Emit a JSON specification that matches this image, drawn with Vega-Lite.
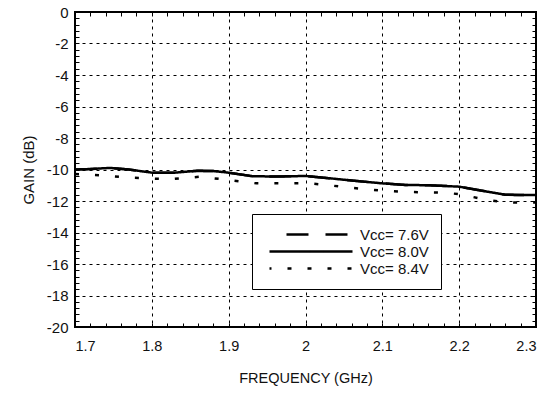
{
  "$schema": "https://vega.github.io/schema/vega-lite/v6.json",
  "width": 461,
  "height": 315,
  "autosize": {"type": "none"},
  "padding": {"left": 75, "top": 12, "right": 18, "bottom": 67},
  "background": "white",
  "config": {
    "view": {"stroke": "black", "strokeWidth": 2},
    "font": "Liberation Sans",
    "axis": {"labelFont": "Liberation Sans", "titleFont": "Liberation Sans", "labelColor": "#111", "titleColor": "#111", "titleFontWeight": "normal"}
  },
  "data": {"values": [
    {"f": 1.70, "g": -10.0, "s": "Vcc= 7.6V"},
    {"f": 1.72, "g": -9.97, "s": "Vcc= 7.6V"},
    {"f": 1.745, "g": -9.9, "s": "Vcc= 7.6V"},
    {"f": 1.77, "g": -10.0, "s": "Vcc= 7.6V"},
    {"f": 1.80, "g": -10.2, "s": "Vcc= 7.6V"},
    {"f": 1.83, "g": -10.2, "s": "Vcc= 7.6V"},
    {"f": 1.86, "g": -10.08, "s": "Vcc= 7.6V"},
    {"f": 1.88, "g": -10.1, "s": "Vcc= 7.6V"},
    {"f": 1.90, "g": -10.2, "s": "Vcc= 7.6V"},
    {"f": 1.93, "g": -10.42, "s": "Vcc= 7.6V"},
    {"f": 1.96, "g": -10.45, "s": "Vcc= 7.6V"},
    {"f": 2.00, "g": -10.41, "s": "Vcc= 7.6V"},
    {"f": 2.03, "g": -10.55, "s": "Vcc= 7.6V"},
    {"f": 2.06, "g": -10.7, "s": "Vcc= 7.6V"},
    {"f": 2.10, "g": -10.88, "s": "Vcc= 7.6V"},
    {"f": 2.13, "g": -10.98, "s": "Vcc= 7.6V"},
    {"f": 2.16, "g": -11.0, "s": "Vcc= 7.6V"},
    {"f": 2.20, "g": -11.09, "s": "Vcc= 7.6V"},
    {"f": 2.23, "g": -11.35, "s": "Vcc= 7.6V"},
    {"f": 2.26, "g": -11.6, "s": "Vcc= 7.6V"},
    {"f": 2.28, "g": -11.62, "s": "Vcc= 7.6V"},
    {"f": 2.30, "g": -11.62, "s": "Vcc= 7.6V"},
    {"f": 1.70, "g": -10.0, "s": "Vcc= 8.0V"},
    {"f": 1.72, "g": -9.97, "s": "Vcc= 8.0V"},
    {"f": 1.745, "g": -9.9, "s": "Vcc= 8.0V"},
    {"f": 1.77, "g": -10.0, "s": "Vcc= 8.0V"},
    {"f": 1.80, "g": -10.2, "s": "Vcc= 8.0V"},
    {"f": 1.83, "g": -10.2, "s": "Vcc= 8.0V"},
    {"f": 1.86, "g": -10.08, "s": "Vcc= 8.0V"},
    {"f": 1.88, "g": -10.1, "s": "Vcc= 8.0V"},
    {"f": 1.90, "g": -10.2, "s": "Vcc= 8.0V"},
    {"f": 1.93, "g": -10.42, "s": "Vcc= 8.0V"},
    {"f": 1.96, "g": -10.45, "s": "Vcc= 8.0V"},
    {"f": 2.00, "g": -10.41, "s": "Vcc= 8.0V"},
    {"f": 2.03, "g": -10.55, "s": "Vcc= 8.0V"},
    {"f": 2.06, "g": -10.7, "s": "Vcc= 8.0V"},
    {"f": 2.10, "g": -10.88, "s": "Vcc= 8.0V"},
    {"f": 2.13, "g": -10.98, "s": "Vcc= 8.0V"},
    {"f": 2.16, "g": -11.0, "s": "Vcc= 8.0V"},
    {"f": 2.20, "g": -11.09, "s": "Vcc= 8.0V"},
    {"f": 2.23, "g": -11.35, "s": "Vcc= 8.0V"},
    {"f": 2.26, "g": -11.6, "s": "Vcc= 8.0V"},
    {"f": 2.28, "g": -11.62, "s": "Vcc= 8.0V"},
    {"f": 2.30, "g": -11.62, "s": "Vcc= 8.0V"},
    {"f": 1.70, "g": -10.29, "s": "Vcc= 8.4V"},
    {"f": 1.733, "g": -10.37, "s": "Vcc= 8.4V"},
    {"f": 1.775, "g": -10.52, "s": "Vcc= 8.4V"},
    {"f": 1.823, "g": -10.62, "s": "Vcc= 8.4V"},
    {"f": 1.862, "g": -10.46, "s": "Vcc= 8.4V"},
    {"f": 1.901, "g": -10.67, "s": "Vcc= 8.4V"},
    {"f": 1.936, "g": -10.88, "s": "Vcc= 8.4V"},
    {"f": 1.975, "g": -10.88, "s": "Vcc= 8.4V"},
    {"f": 2.001, "g": -10.86, "s": "Vcc= 8.4V"},
    {"f": 2.027, "g": -10.98, "s": "Vcc= 8.4V"},
    {"f": 2.053, "g": -11.13, "s": "Vcc= 8.4V"},
    {"f": 2.077, "g": -11.24, "s": "Vcc= 8.4V"},
    {"f": 2.10, "g": -11.35, "s": "Vcc= 8.4V"},
    {"f": 2.126, "g": -11.41, "s": "Vcc= 8.4V"},
    {"f": 2.152, "g": -11.45, "s": "Vcc= 8.4V"},
    {"f": 2.178, "g": -11.47, "s": "Vcc= 8.4V"},
    {"f": 2.20, "g": -11.56, "s": "Vcc= 8.4V"},
    {"f": 2.226, "g": -11.83, "s": "Vcc= 8.4V"},
    {"f": 2.252, "g": -12.04, "s": "Vcc= 8.4V"},
    {"f": 2.274, "g": -12.1, "s": "Vcc= 8.4V"},
    {"f": 2.30, "g": -12.1, "s": "Vcc= 8.4V"}
  ]},
  "resolve": {"axis": {"x": "independent", "y": "independent"}},
  "layer": [
    {
      "mark": {"type": "line", "strokeOpacity": 0},
      "encoding": {
        "x": {"field": "f", "type": "quantitative", "scale": {"domain": [1.7, 2.3], "nice": false, "zero": false},
          "axis": {"orient": "top", "labels": false, "title": null, "domain": false, "grid": false, "tickSize": -4, "tickColor": "black", "tickWidth": 1,
            "values": [1.7,1.72,1.74,1.76,1.78,1.8,1.82,1.84,1.86,1.88,1.9,1.92,1.94,1.96,1.98,2.0,2.02,2.04,2.06,2.08,2.1,2.12,2.14,2.16,2.18,2.2,2.22,2.24,2.26,2.28,2.3]}},
        "y": {"field": "g", "type": "quantitative", "scale": {"domain": [-20, 0], "nice": false, "zero": false},
          "axis": {"orient": "right", "labels": false, "title": null, "domain": false, "grid": false, "tickSize": -4, "tickColor": "black", "tickWidth": 1,
            "values": [-20,-19.6,-19.2,-18.8,-18.4,-18,-17.6,-17.2,-16.8,-16.4,-16,-15.6,-15.2,-14.8,-14.4,-14,-13.6,-13.2,-12.8,-12.4,-12,-11.6,-11.2,-10.8,-10.4,-10,-9.6,-9.2,-8.8,-8.4,-8,-7.6,-7.2,-6.8,-6.4,-6,-5.6,-5.2,-4.8,-4.4,-4,-3.6,-3.2,-2.8,-2.4,-2,-1.6,-1.2,-0.8,-0.4,0]}},
        "detail": {"field": "s"}
      }
    },
    {
      "mark": {"type": "line", "color": "black", "strokeWidth": 2.5},
      "encoding": {
        "x": {"field": "f", "type": "quantitative",
          "axis": {"orient": "bottom", "title": "FREQUENCY (GHz)", "titleFontSize": 14.5, "titlePadding": 19, "labelFontSize": 14.5, "labelPadding": 16,
            "domain": false, "tickSize": -4, "tickColor": "black", "tickWidth": 1,
            "labelExpr": "abs(datum.value*10 - round(datum.value*10)) < 0.001 ? format(datum.value, '~g') : ''",
            "grid": true, "gridColor": "black", "gridDash": [3, 4], "gridWidth": 1,
            "gridOpacity": {"condition": {"test": "abs(datum.value*10 - round(datum.value*10)) < 0.001", "value": 1}, "value": 0},
            "values": [1.7,1.72,1.74,1.76,1.78,1.8,1.82,1.84,1.86,1.88,1.9,1.92,1.94,1.96,1.98,2.0,2.02,2.04,2.06,2.08,2.1,2.12,2.14,2.16,2.18,2.2,2.22,2.24,2.26,2.28,2.3]}},
        "y": {"field": "g", "type": "quantitative",
          "axis": {"orient": "left", "title": "GAIN (dB)", "titleFontSize": 15, "titlePadding": 10, "labelFontSize": 15, "labelPadding": 11,
            "domain": false, "tickSize": -4, "tickColor": "black", "tickWidth": 1,
            "labelExpr": "abs(datum.value/2 - round(datum.value/2)) < 0.01 ? '' + round(datum.value) : ''",
            "grid": true, "gridColor": "black", "gridDash": [3, 4], "gridWidth": 1,
            "gridOpacity": {"condition": {"test": "abs(datum.value/2 - round(datum.value/2)) < 0.01", "value": 1}, "value": 0},
            "values": [-20,-19.6,-19.2,-18.8,-18.4,-18,-17.6,-17.2,-16.8,-16.4,-16,-15.6,-15.2,-14.8,-14.4,-14,-13.6,-13.2,-12.8,-12.4,-12,-11.6,-11.2,-10.8,-10.4,-10,-9.6,-9.2,-8.8,-8.4,-8,-7.6,-7.2,-6.8,-6.4,-6,-5.6,-5.2,-4.8,-4.4,-4,-3.6,-3.2,-2.8,-2.4,-2,-1.6,-1.2,-0.8,-0.4,0]}},
        "strokeDash": {"field": "s", "type": "nominal",
          "scale": {"domain": ["Vcc= 7.6V", "Vcc= 8.0V", "Vcc= 8.4V"], "range": [[22, 17], [1, 0], [4, 16]]},
          "legend": {"title": null, "orient": "none", "legendX": 177, "legendY": 202,
            "fillColor": "white", "strokeColor": "black", "padding": 12,
            "symbolType": "M-0.43,0H11.43", "symbolSize": 196, "symbolStrokeWidth": 2.5, "symbolStrokeColor": "black",
            "symbolDashOffset": 22, "rowPadding": 0, "labelFontSize": 15, "labelFont": "Liberation Sans", "labelColor": "#111", "labelOffset": 79}}
      }
    }
  ]
}
